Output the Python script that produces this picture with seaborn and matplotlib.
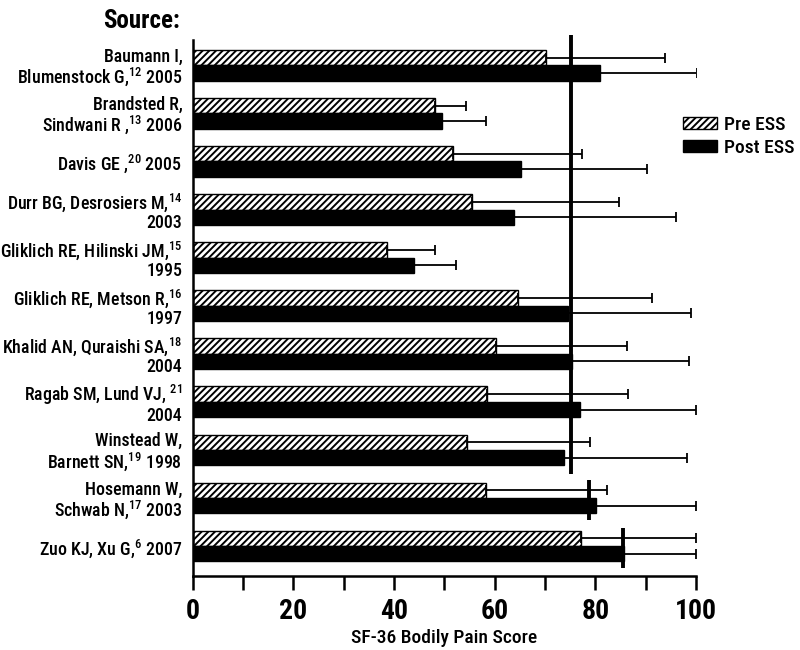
import matplotlib
matplotlib.use("Agg")
import matplotlib.pyplot as plt
import matplotlib.patches as mpatches
import pandas as pd
import seaborn as sns

# Studies (top to bottom)
studies = [
    "Baumann I,\nBlumenstock G,$\\mathregular{^{12}}$ 2005",
    "Brandsted R,\nSindwani R ,$\\mathregular{^{13}}$ 2006",
    "Davis GE ,$\\mathregular{^{20}}$ 2005",
    "Durr BG, Desrosiers M,$\\mathregular{^{14}}$\n2003",
    "Gliklich RE, Hilinski JM,$\\mathregular{^{15}}$\n1995",
    "Gliklich RE, Metson R,$\\mathregular{^{16}}$\n1997",
    "Khalid AN, Quraishi SA,$\\mathregular{^{18}}$\n2004",
    "Ragab SM, Lund VJ, $\\mathregular{^{21}}$\n2004",
    "Winstead W,\nBarnett SN,$\\mathregular{^{19}}$ 1998",
    "Hosemann W,\nSchwab N,$\\mathregular{^{17}}$ 2003",
    "Zuo KJ, Xu G,$\\mathregular{^{6}}$ 2007",
]
pre_ess = [70.2, 48.2, 51.7, 55.5, 38.6, 64.7, 60.2, 58.4, 54.5, 58.3, 77.2]
pre_sd = [23.7, 6.1, 25.6, 29.2, 9.6, 26.6, 26.1, 28.1, 24.4, 24.1, 22.8]
post_ess = [80.9, 49.6, 65.3, 63.9, 44.0, 74.5, 75.3, 76.9, 73.7, 80.1, 85.6]
post_sd = [19.3, 8.6, 25.0, 32.1, 8.4, 24.5, 23.4, 23.1, 24.6, 19.9, 14.4]

# Normative reference lines: value, first study index, last study index
norm_values = [75.2, 78.7, 85.5]
norm_first = [0, 9, 10]
norm_last = [8, 9, 10]

FONTS = ["Roboto Condensed", "Archivo Narrow", "Barlow Semi Condensed", "DejaVu Sans"]

sns.set_style("white")
plt.rcParams["font.family"] = FONTS
plt.rcParams["mathtext.fontset"] = "custom"
plt.rcParams["mathtext.rm"] = FONTS[0]
plt.rcParams["hatch.linewidth"] = 1.4
for key in ["text.color", "axes.labelcolor", "xtick.color", "ytick.color"]:
    plt.rcParams[key] = "black"

df = pd.DataFrame({
    "study": studies * 2,
    "phase": ["Pre ESS"] * len(studies) + ["Post ESS"] * len(studies),
    "score": pre_ess + post_ess,
})

fig = plt.figure(figsize=(8, 6.5), dpi=100)
ax = fig.add_axes([0.241, 0.114, 0.629, 0.824])

sns.barplot(
    data=df, x="score", y="study", hue="phase", orient="h",
    hue_order=["Pre ESS", "Post ESS"], palette=["white", "black"],
    width=0.64, gap=0, edgecolor="black", linewidth=1.0,
    errorbar=None, legend=False, ax=ax,
)

for bar in ax.containers[0]:
    bar.set_hatch("/////")
    bar.set_facecolor("white")

for cont, sds in zip(ax.containers, [pre_sd, post_sd]):
    xs = [b.get_width() for b in cont]
    ys = [b.get_y() + b.get_height() / 2 for b in cont]
    ax.errorbar(xs, ys, xerr=[[0] * len(sds), sds], fmt="none", ecolor="black",
                elinewidth=1.3, capsize=3.8, capthick=1.3, zorder=3)

for val, i0, i1 in zip(norm_values, norm_first, norm_last):
    if i0 == i1:
        y0, y1 = i0 - 0.38, i1 + 0.45
    else:
        y0, y1 = i0 - 0.62, i1 + 0.5
    ax.plot([val, val], [y0, y1], color="black", lw=2.8, zorder=4, clip_on=False,
            solid_capstyle="butt")

ax.set_xlim(0, 100)
ax.set_ylim(len(studies) - 0.38, -0.52)
ax.set_xticks(range(0, 101, 20))
ax.set_xticks(range(10, 100, 20), minor=True)
ax.tick_params(axis="x", which="both", direction="out", length=10, width=1.8,
               bottom=True, labelsize=20, pad=6)
for lbl in ax.get_xticklabels():
    lbl.set_fontweight("bold")
ax.tick_params(axis="y", left=False, labelsize=12.9, pad=4)
for lbl in ax.get_yticklabels():
    lbl.set_fontweight("medium")
    lbl.set_linespacing(1.0)
ax.set_ylabel("")
ax.set_xlabel("SF-36 Bodily Pain Score", fontsize=14, fontweight="medium", labelpad=3)

for side in ["top", "right"]:
    ax.spines[side].set_visible(False)
for side in ["left", "bottom"]:
    ax.spines[side].set_linewidth(1.8)
    ax.spines[side].set_color("black")

handles = [
    mpatches.Patch(facecolor="white", edgecolor="black", hatch="/////", label="Pre ESS"),
    mpatches.Patch(facecolor="black", edgecolor="black", label="Post ESS"),
]
fig.legend(handles=handles, loc="upper left", bbox_to_anchor=(0.854, 0.822),
           frameon=False, handlelength=1.75, handleheight=0.6,
           handletextpad=0.35, labelspacing=0.25, borderpad=0, borderaxespad=0,
           prop={"weight": "medium", "size": 14})

fig.text(0.225, 0.967, "Source:", fontsize=18, fontweight="bold", ha="right", va="center")

fig.savefig("out.png", dpi=100)
